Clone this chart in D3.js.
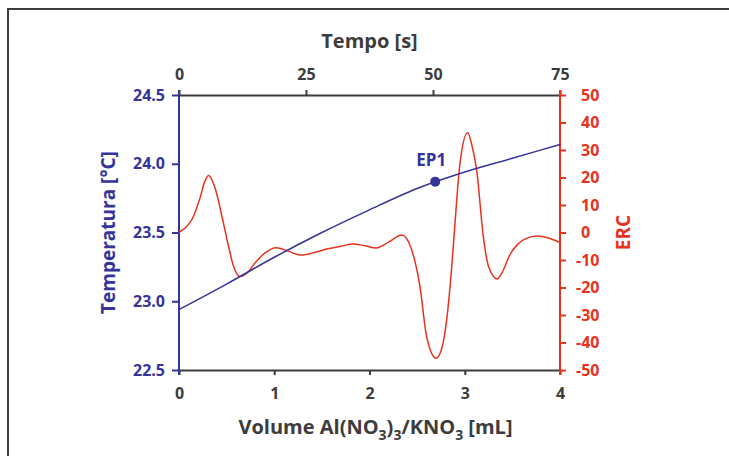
<!DOCTYPE html>
<html>
<head>
<meta charset="utf-8">
<script src="https://cdn.jsdelivr.net/npm/d3@7"></script>
<style>
  body { margin: 0; background: #fff; }
  svg text { font-family: "Open Sans", sans-serif; font-weight: 700; }
</style>
</head>
<body>
<div class="canvas"></div>
<script>
const svgWidth = 729;
const svgHeight = 456;
const margin = { top: 95, right: 169, bottom: 86, left: 179 };
const graphWidth = svgWidth - margin.left - margin.right;
const graphHeight = svgHeight - margin.top - margin.bottom;

// Data
const tempVolume = [0, 0.5, 1, 1.5, 2, 2.5, 3, 3.5, 4];
const temperature = [22.94, 23.125, 23.32, 23.5, 23.665, 23.82, 23.94, 24.04, 24.14];

const ercVolume = [0, 0.07, 0.14, 0.22, 0.27, 0.31, 0.38, 0.45, 0.52, 0.57, 0.64, 0.72, 0.8, 0.9, 1.02,
  1.15, 1.27, 1.4, 1.55, 1.7, 1.83, 1.95, 2.07, 2.2, 2.34, 2.44, 2.53, 2.6, 2.7, 2.76, 2.81,
  2.86, 2.9, 2.95, 3.03, 3.08, 3.125, 3.195, 3.25, 3.34, 3.4, 3.475, 3.55, 3.62, 3.755, 3.88, 4];
const ercValues = [0, 1.8, 5, 12.5, 18.5, 20.7, 16, 6, -5, -12, -16, -14.5, -11, -7.5, -5.5,
  -6.8, -8.2, -7.5, -6, -5, -4.2, -4.8, -5.6, -3.5, -0.9, -6, -19.7, -37.9, -45.7, -42, -31.8,
  -14, 4.5, 25.2, 36.3, 31, 22.7, -1.5, -12.4, -16.9, -14, -8, -4.5, -2.6, -1.3, -2, -3.7];

const ep1 = { volume: 2.69, temp: 23.87, label: 'EP1' };

const volumeTicks = [0, 1, 2, 3, 4];
const timeTicks = [0, 25, 50, 75];
const tempTicks = [22.5, 23.0, 23.5, 24.0, 24.5];
const ercTicks = [-50, -40, -30, -20, -10, 0, 10, 20, 30, 40, 50];

const blue = '#34349a';
const red = '#e8321e';
const grey = '#3c3c3c';

const svg = d3.select('.canvas')
  .append('svg')
    .attr('width', svgWidth)
    .attr('height', svgHeight);

// frame round the figure
svg.append('rect')
  .attr('x', 8).attr('y', 9)
  .attr('width', 760).attr('height', 500)
  .attr('fill', 'none')
  .attr('stroke', grey)
  .attr('stroke-width', 2);

const g = svg.append('g')
  .attr('transform', `translate(${margin.left}, ${margin.top})`);

// Scales
const x = d3.scaleLinear().domain([0, 4]).range([0, graphWidth]);
const xTime = d3.scaleLinear().domain([0, 75]).range([0, graphWidth]);
const yTemp = d3.scaleLinear().domain([22.5, 24.5]).range([graphHeight, 0]);
const yErc = d3.scaleLinear().domain([-50, 50]).range([graphHeight, 0]);

// Axes
const xAxisGroup = g.append('g')
  .attr('transform', `translate(0, ${graphHeight})`)
  .call(d3.axisBottom(x).tickValues(volumeTicks).tickFormat(d3.format('d'))
    .tickSize(5).tickSizeOuter(0).tickPadding(13));

const topAxisGroup = g.append('g')
  .call(d3.axisTop(xTime).tickValues(timeTicks).tickFormat(d3.format('d'))
    .tickSize(5).tickSizeOuter(0).tickPadding(10));

[xAxisGroup, topAxisGroup].forEach(ax => {
  ax.select('.domain').attr('stroke', grey).attr('stroke-width', 2);
  ax.selectAll('.tick line').attr('stroke', grey).attr('stroke-width', 2);
  ax.selectAll('.tick text').attr('fill', grey).style('font-size', '16px');
});

const yAxisGroup = g.append('g')
  .call(d3.axisLeft(yTemp).tickValues(tempTicks).tickFormat(d3.format('.1f'))
    .tickSize(7).tickSizeOuter(0).tickPadding(7));
yAxisGroup.select('.domain').remove();
yAxisGroup.selectAll('.tick line').attr('stroke', blue).attr('stroke-width', 2);
yAxisGroup.selectAll('.tick text').attr('fill', blue).style('font-size', '16px');
g.append('line')
  .attr('x1', 0).attr('x2', 0).attr('y1', -5).attr('y2', graphHeight + 5)
  .attr('stroke', blue).attr('stroke-width', 2);

const y2AxisGroup = g.append('g')
  .attr('transform', `translate(${graphWidth}, 0)`)
  .call(d3.axisRight(yErc).tickValues(ercTicks).tickSize(6).tickSizeOuter(0).tickPadding(15)
    .tickFormat(d => d < 0 ? '-' + Math.abs(d) : d));
y2AxisGroup.select('.domain').remove();
y2AxisGroup.selectAll('.tick line').attr('stroke', red).attr('stroke-width', 2);
y2AxisGroup.selectAll('.tick text').attr('fill', red).style('font-size', '16px')
  .attr('dx', d => d < 0 ? -5 : 0);
g.append('line')
  .attr('x1', graphWidth).attr('x2', graphWidth).attr('y1', -5).attr('y2', graphHeight + 5)
  .attr('stroke', red).attr('stroke-width', 2);

// Lines
const tempLine = d3.line()
  .x((d, i) => x(tempVolume[i]))
  .y(d => yTemp(d))
  .curve(d3.curveMonotoneX);

const ercLine = d3.line()
  .x((d, i) => x(ercVolume[i]))
  .y(d => yErc(d))
  .curve(d3.curveMonotoneX);

g.append('path')
  .attr('d', ercLine(ercValues))
  .attr('fill', 'none')
  .attr('stroke', red)
  .attr('stroke-width', 1.5);

g.append('path')
  .attr('d', tempLine(temperature))
  .attr('fill', 'none')
  .attr('stroke', blue)
  .attr('stroke-width', 1.5);

g.append('circle')
  .attr('cx', x(ep1.volume))
  .attr('cy', yTemp(ep1.temp))
  .attr('r', 5)
  .attr('fill', blue);

g.append('text')
  .attr('x', x(ep1.volume) - 4)
  .attr('y', yTemp(ep1.temp) - 16)
  .attr('text-anchor', 'middle')
  .attr('fill', blue)
  .style('font-size', '17px')
  .text(ep1.label);

// Titles
svg.append('text')
  .attr('x', margin.left + graphWidth / 2)
  .attr('y', 48)
  .attr('text-anchor', 'middle')
  .attr('fill', grey)
  .style('font-size', '20px')
  .text('Tempo [s]');

const xTitle = svg.append('text')
  .attr('x', margin.left + graphWidth / 2 + 6)
  .attr('y', 434)
  .attr('text-anchor', 'middle')
  .attr('fill', grey)
  .style('font-size', '20px');
xTitle.append('tspan').text('Volume Al(NO');
xTitle.append('tspan').attr('dy', 6).style('font-size', '14px').text('3');
xTitle.append('tspan').attr('dy', -6).text(')');
xTitle.append('tspan').attr('dy', 6).style('font-size', '14px').text('3');
xTitle.append('tspan').attr('dy', -6).text('/KNO');
xTitle.append('tspan').attr('dy', 6).style('font-size', '14px').text('3');
xTitle.append('tspan').attr('dy', -6).text(' [mL]');

svg.append('text')
  .attr('transform', `translate(115, ${margin.top + graphHeight / 2}) rotate(-90)`)
  .attr('text-anchor', 'middle')
  .attr('fill', blue)
  .style('font-size', '19px')
  .text('Temperatura [°C]');

svg.append('text')
  .attr('transform', `translate(630, ${margin.top + graphHeight / 2}) rotate(-90)`)
  .attr('text-anchor', 'middle')
  .attr('fill', red)
  .style('font-size', '19px')
  .text('ERC');
</script>
</body>
</html>
